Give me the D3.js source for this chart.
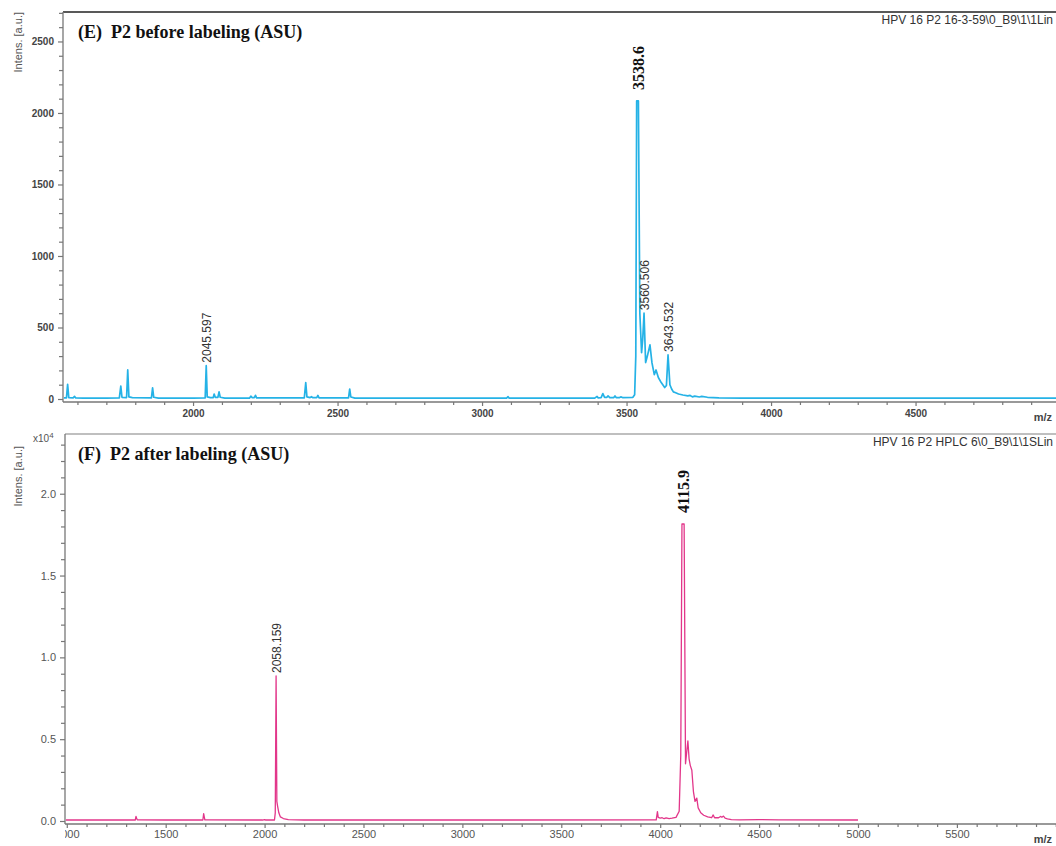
<!DOCTYPE html>
<html>
<head>
<meta charset="utf-8">
<script src="https://cdn.jsdelivr.net/npm/d3@7"></script>
<style>
  body { margin: 0; background: #fff; }
  svg { display: block; }
</style>
</head>
<body>
<svg id="chart" width="1056" height="846"></svg>
<script>
// ---- Spectrum (E): P2 before labeling, m/z vs intensity ----
const specE_mz = [1550, 1562, 1566, 1570, 1585, 1590, 1594, 1620, 1700, 1745, 1750, 1754, 1770, 1774, 1778, 1790,
  1856, 1860, 1864, 1880, 2000, 2042, 2045.597, 2049, 2060, 2070, 2073, 2077, 2086, 2090, 2094, 2110,
  2195, 2200, 2204, 2212, 2216, 2220, 2385, 2390, 2394, 2405, 2410, 2414, 2428, 2432, 2436,
  2538, 2542, 2546, 2560, 3085, 3090, 3094, 3390, 3398, 3402, 3412, 3418, 3424, 3432, 3436, 3442,
  3456, 3460, 3464, 3476, 3480, 3486, 3522, 3528, 3532, 3535, 3541, 3546, 3552, 3556, 3560.506,
  3566, 3572, 3581, 3588, 3596, 3602, 3610, 3620, 3632, 3638, 3643.532, 3650, 3656, 3662, 3668,
  3680, 3695, 3712, 3720, 3728, 3736, 3752, 3760, 3780, 3820, 3900, 4986];
const specE_int = [8, 8, 102, 10, 8, 18, 8, 6, 6, 8, 90, 12, 10, 203, 15, 10,
  8, 78, 12, 6, 6, 8, 233, 15, 10, 10, 35, 12, 12, 50, 12, 6,
  6, 20, 10, 10, 26, 8, 8, 114, 15, 10, 16, 10, 10, 25, 8,
  8, 70, 14, 6, 6, 16, 6, 6, 18, 8, 10, 38, 12, 12, 22, 10,
  10, 22, 10, 10, 15, 10, 12, 30, 300, 2084, 2084, 600, 324, 420, 600,
  255, 300, 378, 252, 170, 203, 150, 115, 80, 95, 308, 100, 70, 50, 45,
  35, 28, 22, 25, 15, 20, 14, 18, 12, 8, 6, 6];
const specE_labels = [2045.597, 3560.506, 3643.532];
const specE_major = 3538.6;

// ---- Spectrum (F): P2 after labeling, m/z vs intensity ----
const specF_mz = [990, 1340, 1346, 1350, 1356, 1500, 1684, 1688, 1692, 1698, 1990, 2000, 2004, 2050, 2054, 2058.159,
  2062, 2066, 2072, 2080, 2095, 2120, 2200, 3000, 3980, 3986, 3990, 4000, 4010, 4020, 4030, 4045, 4060,
  4080, 4096, 4104, 4110, 4115.9, 4121, 4128, 4134, 4140, 4146, 4152, 4160, 4168, 4176, 4185, 4192,
  4205, 4220, 4240, 4260, 4268, 4275, 4295, 4305, 4312, 4320, 4328, 4340, 4360, 4400, 4500, 4600, 5000];
const specF_int = [60, 60, 60, 280, 70, 60, 60, 60, 450, 70, 60, 90, 60, 60, 500, 8860,
  1200, 900, 500, 250, 150, 80, 60, 60, 70, 570, 220, 180, 200, 140, 190, 150, 170,
  220, 600, 4000, 18150, 18150, 18150, 3500, 4200, 4900, 3800, 3400, 3100, 1800, 1200, 1400, 800,
  500, 350, 250, 200, 370, 200, 200, 280, 230, 300, 180, 130, 80, 70, 90, 70, 60];
const specF_labels = [2058.159];
const specF_major = 4115.9;

// ---- Axis ticks ----
const specE_yMajor = [0, 500, 1000, 1500, 2000, 2500];
const specE_xMajor = [2000, 2500, 3000, 3500, 4000, 4500];
const specF_yMajor = [0, 5000, 10000, 15000, 20000];
const specF_xMajor = [1000, 1500, 2000, 2500, 3000, 3500, 4000, 4500, 5000, 5500];

const W = 1056;
const svg = d3.select("#chart");
const SANS = "'Liberation Sans', Arial, sans-serif";
const NARROW = "'Liberation Sans Narrow', 'Liberation Sans', Arial, sans-serif";
const SERIF = "'Liberation Serif', 'Times New Roman', serif";

function range(a, b, step) {
  const out = [];
  for (let v = a; v <= b + 1e-9; v += step) out.push(+v.toFixed(6));
  return out;
}

function drawPanel(cfg) {
  const g = svg.append("g");
  const x = d3.scaleLinear().domain(cfg.xDomain).range([cfg.left, W]);
  const y = d3.scaleLinear().domain(cfg.yDomain).range([cfg.zeroY, cfg.top]);

  const clipId = "clip-" + cfg.id;
  g.append("clipPath").attr("id", clipId)
    .append("rect").attr("x", cfg.left).attr("y", cfg.top)
    .attr("width", W - cfg.left).attr("height", cfg.axisY + 30 - cfg.top);

  // frame: top border, y axis line, x axis line
  g.append("line").attr("x1", cfg.left).attr("x2", W).attr("y1", cfg.top).attr("y2", cfg.top)
    .attr("stroke", cfg.borderColor).attr("stroke-width", 1.3);
  g.append("line").attr("x1", cfg.left).attr("x2", cfg.left).attr("y1", cfg.top).attr("y2", cfg.axisY)
    .attr("stroke", "#777").attr("stroke-width", 1.3);
  g.append("line").attr("x1", cfg.left).attr("x2", W).attr("y1", cfg.axisY).attr("y2", cfg.axisY)
    .attr("stroke", "#777").attr("stroke-width", 1.3);

  // y axis
  const yMinor = range(cfg.yDomain[0], cfg.yDomain[1], cfg.yMinorStep)
    .filter(v => !cfg.yMajor.includes(v));
  const yMin = g.append("g").attr("transform", `translate(${cfg.left},0)`)
    .call(d3.axisLeft(y).tickValues(yMinor).tickFormat("").tickSize(4).tickSizeOuter(0));
  const yMaj = g.append("g").attr("transform", `translate(${cfg.left},0)`)
    .call(d3.axisLeft(y).tickValues(cfg.yMajor).tickFormat(cfg.yFormat).tickSize(5).tickPadding(4).tickSizeOuter(0));
  [yMin, yMaj].forEach(a => {
    a.select(".domain").remove();
    a.selectAll("line").attr("stroke", "#777").attr("stroke-width", 1.2);
  });
  yMaj.selectAll("text").attr("fill", cfg.tickColor).style("font-family", SANS)
    .style("font-size", cfg.tickFont + "px").style("font-weight", cfg.tickWeight);

  // x axis
  const xMinor = range(cfg.xMinorFrom, cfg.xMinorTo, 100).filter(v => !cfg.xMajor.includes(v));
  const xAx = g.append("g").attr("clip-path", `url(#${clipId})`);
  const xMin = xAx.append("g").attr("transform", `translate(0,${cfg.axisY})`)
    .call(d3.axisBottom(x).tickValues(xMinor).tickFormat("").tickSize(3).tickSizeOuter(0));
  const xMaj = xAx.append("g").attr("transform", `translate(0,${cfg.axisY})`)
    .call(d3.axisBottom(x).tickValues(cfg.xMajor).tickFormat(d3.format("d")).tickSize(4)
      .tickPadding(cfg.xPad).tickSizeOuter(0));
  [xMin, xMaj].forEach(a => {
    a.select(".domain").remove();
    a.selectAll("line").attr("stroke", "#777").attr("stroke-width", 1.2);
  });
  xMaj.selectAll("text").attr("fill", cfg.tickColor).style("font-family", SANS)
    .style("font-size", cfg.tickFont + "px").style("font-weight", cfg.tickWeight);

  // m/z axis label
  g.append("text").attr("x", 1052).attr("y", cfg.axisY + 19).attr("text-anchor", "end")
    .attr("fill", "#444").style("font-family", SANS).style("font-size", "11px").style("font-weight", "bold")
    .text("m/z");

  // y axis title
  g.append("text")
    .attr("transform", `translate(22,${cfg.yTitleY}) rotate(-90)`)
    .attr("text-anchor", "end")
    .attr("fill", "#555").style("font-family", NARROW).style("font-size", "11px")
    .text("Intens. [a.u.]");

  // run identifier
  g.append("text").attr("x", 1053).attr("y", cfg.top + 12).attr("text-anchor", "end")
    .attr("fill", "#333").style("font-family", SANS).style("font-size", "12px")
    .text(cfg.runName);

  // panel title
  g.append("text").attr("x", 78).attr("y", cfg.top + 26)
    .attr("fill", "#111").style("font-family", SERIF).style("font-size", "18px").style("font-weight", "bold")
    .style("white-space", "pre").attr("xml:space", "preserve")
    .text(cfg.title);

  // spectrum trace
  const pts = d3.zip(cfg.mz, cfg.intensity);
  const plotClip = "pclip-" + cfg.id;
  g.append("clipPath").attr("id", plotClip)
    .append("rect").attr("x", cfg.left + 1).attr("y", cfg.top)
    .attr("width", W - cfg.left).attr("height", cfg.axisY - cfg.top);
  g.append("path").datum(pts)
    .attr("clip-path", `url(#${plotClip})`)
    .attr("fill", "none").attr("stroke", cfg.color).attr("stroke-width", cfg.lineWidth)
    .attr("stroke-linejoin", "round")
    .attr("d", d3.line().x(d => x(d[0])).y(d => y(d[1])));

  const heightAt = m => cfg.intensity[cfg.mz.indexOf(m)];

  // small peak annotations
  g.selectAll("text.peak").data(cfg.labels).enter().append("text")
    .attr("class", "peak")
    .attr("transform", d => `translate(${x(d) + 5},${y(heightAt(d)) - 3}) rotate(-90)`)
    .attr("fill", "#333").style("font-family", NARROW).style("font-size", "12px")
    .text(d => d3.format(".3f")(d));

  // main peak annotation
  g.append("text")
    .attr("transform", `translate(${x(cfg.major) + 6},${y(d3.max(cfg.intensity)) - 11}) rotate(-90)`)
    .attr("fill", "#111").style("font-family", SERIF).style("font-size", "16px").style("font-weight", "bold")
    .text(cfg.major.toFixed(1));
}

drawPanel({
  id: "e", left: 63, top: 12, zeroY: 399, axisY: 402,
  xDomain: [1550, 4986], yDomain: [0, 2706],
  yMajor: specE_yMajor, yMinorStep: 100, yFormat: d3.format("d"),
  xMajor: specE_xMajor, xMinorFrom: 1600, xMinorTo: 4900, xPad: 4,
  tickColor: "#444", tickFont: 10, tickWeight: "bold",
  borderColor: "#222", yTitleY: 12,
  runName: "HPV 16 P2 16-3-59\\0_B9\\1\\1Lin",
  title: "(E)  P2 before labeling (ASU)",
  mz: specE_mz, intensity: specE_int, labels: specE_labels, major: specE_major,
  color: "#25b2e6", lineWidth: 1.7
});

drawPanel({
  id: "f", left: 65, top: 434, zeroY: 821, axisY: 824,
  xDomain: [991, 6001], yDomain: [0, 23650],
  yMajor: specF_yMajor, yMinorStep: 1000, yFormat: d => (d / 10000).toFixed(1),
  xMajor: specF_xMajor, xMinorFrom: 1000, xMinorTo: 6000, xPad: 2,
  tickColor: "#555", tickFont: 11, tickWeight: "normal",
  borderColor: "#aaa", yTitleY: 446,
  runName: "HPV 16 P2 HPLC 6\\0_B9\\1\\1SLin",
  title: "(F)  P2 after labeling (ASU)",
  mz: specF_mz, intensity: specF_int, labels: specF_labels, major: specF_major,
  color: "#e2368a", lineWidth: 1.3
});

// exponent marker on the lower intensity axis
const expo = svg.append("text").attr("x", 33).attr("y", 442)
  .attr("fill", "#555").style("font-family", SANS).style("font-size", "10px");
expo.append("tspan").text("x10");
expo.append("tspan").attr("dy", -4).style("font-size", "8px").text("4");
</script>
</body>
</html>
